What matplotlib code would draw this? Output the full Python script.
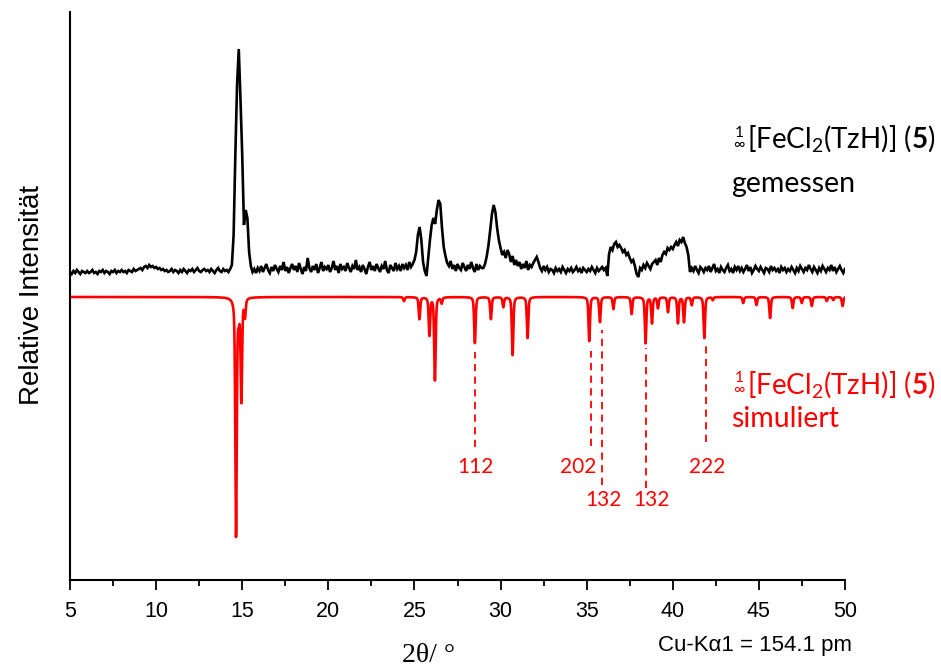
import numpy as np
import matplotlib
matplotlib.use("Agg")
import matplotlib.pyplot as plt

plt.rcParams['mathtext.fontset'] = 'custom'
plt.rcParams['mathtext.rm'] = 'Lato'
plt.rcParams['mathtext.bf'] = 'Lato:bold'
plt.rcParams['mathtext.it'] = 'Lato:italic'

meas_start, meas_step = 5.0, 0.1
meas_int = [
    8, 6, 9, 7, 10, 8, 6, 9, 8, 7,            # 5
    9, 7, 8, 10, 7, 8, 6, 9, 8, 10,           # 6
    7, 9, 8, 6, 9, 8, 10, 7, 9, 8,            # 7
    10, 8, 9, 7, 10, 9, 8, 11, 9, 10,         # 8
    11, 12, 10, 13, 14, 12, 15, 13, 14, 12,   # 9
    13, 11, 12, 10, 11, 9, 10, 8, 9, 11,      # 10
    8, 10, 9, 7, 10, 8, 11, 9, 7, 10,         # 11
    9, 11, 8, 10, 12, 9, 8, 10, 11, 9,        # 12
    10, 8, 11, 9, 7, 10, 12, 9, 8, 11,        # 13
    9, 10, 8, 11, 15, 45, 125, 195, 231, 180,  # 14
    125, 55, 70, 62, 28, 14, 8, 11, 7, 12,    # 15
    9, 14, 8, 12, 16, 10, 7, 13, 9, 15,       # 16
    11, 8, 14, 10, 18, 9, 13, 7, 12, 16,      # 17
    10, 14, 8, 17, 11, 6, 13, 9, 22, 12,      # 18
    8, 14, 10, 16, 7, 12, 18, 9, 13, 11,      # 19
    15, 8, 12, 19, 10, 14, 7, 16, 11, 13,     # 20
    9, 17, 12, 8, 14, 11, 20, 10, 13, 8,      # 21
    15, 11, 6, 13, 18, 10, 14, 9, 16, 12,     # 22
    8, 14, 11, 19, 10, 7, 15, 12, 9, 17,      # 23
    11, 14, 9, 16, 12, 15, 10, 18, 13, 16,    # 24
    20, 28, 45, 53, 40, 18, 9, 4, 22, 40,     # 25
    55, 62, 56, 70, 80, 76, 52, 33, 24, 17,   # 26
    14, 19, 11, 15, 9, 16, 12, 10, 17, 13,    # 27
    9, 15, 11, 18, 12, 8, 16, 10, 14, 12,     # 28
    12, 16, 24, 35, 50, 66, 75, 68, 52, 40,   # 29
    32, 25, 28, 22, 30, 26, 18, 24, 15, 20,   # 30
    14, 18, 11, 16, 12, 19, 10, 15, 13, 17,   # 31
    20, 23, 18, 12, 9, 14, 10, 13, 8, 11,     # 32
    10, 7, 12, 9, 11, 8, 13, 10, 7, 11,       # 33
    9, 12, 8, 10, 13, 9, 11, 7, 12, 10,       # 34
    8, 11, 9, 13, 10, 7, 12, 9, 11, 13,       # 35
    10, 12, 4, 26, 33, 30, 36, 38, 33, 35,    # 36
    32, 28, 30, 25, 27, 22, 18, 20, 14, 6,    # 37
    3, 12, 10, 15, 12, 17, 14, 11, 16, 18,    # 38
    20, 15, 22, 18, 25, 28, 26, 32, 30, 33,   # 39
    31, 35, 38, 34, 40, 38, 43, 37, 33, 25,   # 40
    8, 12, 9, 14, 10, 7, 13, 11, 8, 12,       # 41
    10, 14, 8, 12, 16, 9, 11, 7, 13, 10,      # 42
    8, 12, 15, 9, 11, 7, 13, 10, 14, 9,       # 43
    12, 8, 11, 15, 9, 13, 7, 10, 14, 11,      # 44
    9, 13, 10, 7, 12, 11, 8, 14, 10, 12,      # 45
    9, 11, 7, 13, 10, 12, 8, 11, 9, 13,       # 46
    10, 7, 12, 9, 14, 11, 8, 12, 10, 15,      # 47
    11, 8, 13, 10, 7, 12, 9, 14, 11, 8,       # 48
    12, 10, 15, 9, 13, 8, 11, 14, 10, 7,      # 49
    11,                                       # 50
]

# simulated reflections: position (2theta) and relative height
sim_pos = [14.64, 14.80, 14.95, 15.16, 24.39, 25.29, 25.87, 26.19, 26.58, 28.51,
           29.44, 30.16, 30.70, 31.57, 35.15, 35.77, 36.55, 37.61, 38.42, 38.79,
           39.14, 39.72, 40.30, 40.65, 41.10, 41.83, 42.32, 44.09, 44.86, 45.65,
           46.96, 47.49, 48.07, 48.94, 49.32, 49.86]
sim_int = [238, 15, 102, 18, 4, 22, 38, 83, 6, 46,
           22, 10, 58, 41, 44, 25, 12, 17, 46, 26,
           11, 15, 26, 25, 8, 41, 3, 6, 8, 21,
           11, 6, 9, 4, 3, 9]

# indexed reflections
hkl_labels = ['112', '202', '132', '132', '222']
hkl_pos = [28.52, 35.25, 35.89, 38.44, 41.93]

RED = '#ff0000'
meas_offset = 300
sim_offset = 283

x_meas = meas_start + meas_step * np.arange(len(meas_int))
y_meas = meas_offset + np.array(meas_int, dtype=float)

# simulated profile from the reflection list (pseudo-Voigt, fwhm 0.1 deg)
x_sim = np.linspace(5, 50, 4501)
prof = np.zeros_like(x_sim)
w = 0.1
for p, h in zip(sim_pos, sim_int):
    d = x_sim - p
    lor = 1.0 / (1.0 + (2 * d / w) ** 2)
    gau = np.exp(-4 * np.log(2) * (d / w) ** 2)
    prof += h * (0.5 * lor + 0.5 * gau)
y_sim = sim_offset - prof

fig = plt.figure(figsize=(9.41, 6.68), dpi=100)
ax = fig.add_axes([70 / 941, 88 / 668, 775 / 941, 568 / 668])

ax.plot(x_meas, y_meas, color='black', lw=1.9, solid_joinstyle='miter')
ax.plot(x_sim, y_sim, color=RED, lw=1.9)

ax.set_xlim(5, 50)
ax.set_ylim(0, 568)
for s in ['top', 'right']:
    ax.spines[s].set_visible(False)
ax.spines['left'].set_linewidth(1.5)
ax.spines['bottom'].set_linewidth(1.5)
ax.set_yticks([])
ax.set_xticks(np.arange(5, 51, 5))
ax.set_xticks(np.arange(7.5, 50, 5), minor=True)
ax.tick_params(axis='x', which='major', direction='out', length=7, width=1.3, pad=8)
ax.tick_params(axis='x', which='minor', direction='out', length=4, width=1.3)
for lab in ax.get_xticklabels():
    lab.set_fontfamily('Liberation Sans')
    lab.set_fontsize(15.5)

# dashed hkl markers
hkl_top = [228, 229, 250, 232, 235]
hkl_bot = [133, 134, 95, 92, 138]
hkl_text_x = [28.52, 34.50, 35.95, 38.79, 41.99]
hkl_text_y = [113, 113, 80, 80, 113]
for lab, p, t, b, tx, ty in zip(hkl_labels, hkl_pos, hkl_top, hkl_bot, hkl_text_x, hkl_text_y):
    ax.plot([p, p], [b, t], color=RED, lw=1.3, ls=(0, (4, 3)))
    ax.text(tx, ty, lab, color=RED, fontsize=15, family='Lato', ha='center', va='center')

# compound labels
prefix = r'$\genfrac{}{}{0}{}{1}{\infty}$'
formula = r'$\mathrm{[FeCl_2(TzH)]\ (}\mathbf{5}\mathrm{)}$'
for col, base, second, second_base in [('black', 432, 'gemessen', 388),
                                       (RED, 187, 'simuliert', 153)]:
    ax.text(43.84, base + 3, prefix, color=col, fontsize=16,
            ha='center', va='baseline', clip_on=False)
    ax.text(44.30, base, formula, color=col, fontsize=20, ha='left', va='baseline',
            clip_on=False)
    ax.text(43.38, second_base, second, color=col, fontsize=20.5, family='Lato',
            ha='left', va='baseline', clip_on=False)

fig.text(32 / 941, 1 - 295 / 668, 'Relative Intensität', rotation=90, ha='center',
         va='center', fontsize=20, family='Liberation Sans')
fig.text(428 / 941, 1 - 655 / 668, '2θ/ °', ha='center', va='center', fontsize=20,
         family='Liberation Serif')
fig.text(852 / 941, 1 - 645 / 668, 'Cu-Kα1 = 154.1 pm', ha='right', va='center',
         fontsize=16, family='Liberation Sans')

fig.savefig('out.png', dpi=100)
